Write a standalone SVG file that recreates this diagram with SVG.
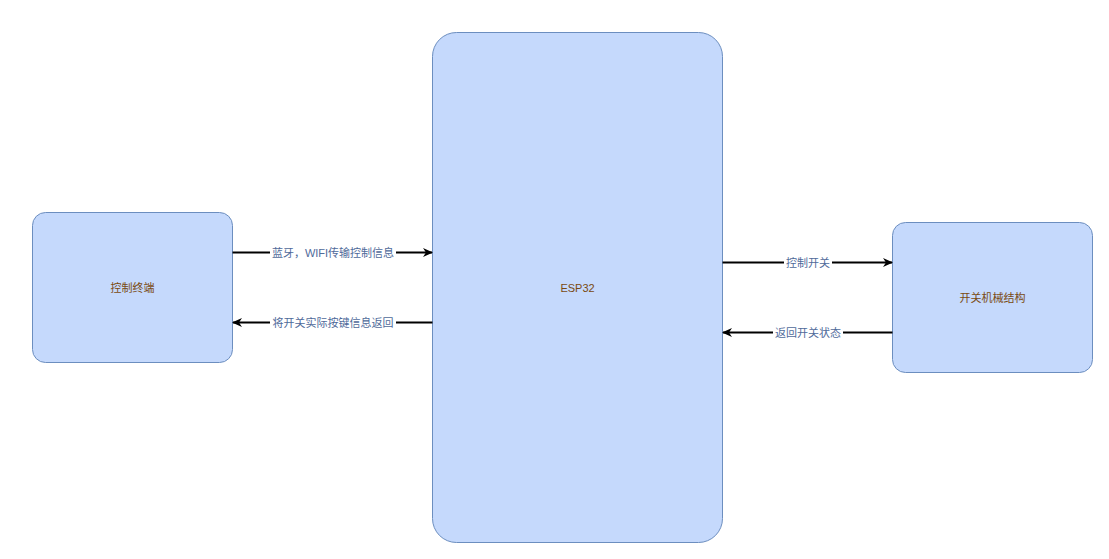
<svg xmlns="http://www.w3.org/2000/svg" width="1109" height="559" viewBox="0 0 1109 559">
<style>
.node{fill:#c5d9fc;stroke:#6c8ebf;stroke-width:1}
.ntxt{font-family:"Liberation Sans","Noto Sans CJK SC",sans-serif;font-size:11px;fill:#7a4a10;text-anchor:middle;dominant-baseline:central}
.edge{stroke:#000;stroke-width:2;fill:none}
.lbg{fill:#fff}
.ltxt{font-family:"Liberation Sans","Noto Sans CJK SC",sans-serif;font-size:11px;fill:#4f6a9a;text-anchor:middle;dominant-baseline:central}
</style>
<defs>
<marker id="ah" viewBox="0 0 10 10" refX="9" refY="5" markerWidth="10" markerHeight="10" markerUnits="userSpaceOnUse" orient="auto">
<path d="M0,0.5 L10,5 L0,9.5 L3,5 Z" fill="#000"/>
</marker>
</defs>
<rect width="1109" height="559" fill="#fff"/>
<g id="terminal">
<rect class="node" x="32.5" y="212.5" width="200" height="150" rx="13"/>
<text class="ntxt" x="132.5" y="287.5">控制终端</text>
</g>
<g id="esp32">
<rect class="node" x="432.5" y="32.5" width="290" height="510" rx="24"/>
<text class="ntxt" x="577.5" y="287.5">ESP32</text>
</g>
<g id="switch">
<rect class="node" x="892.5" y="222.5" width="200" height="150" rx="13"/>
<text class="ntxt" x="992.5" y="297.5">开关机械结构</text>
</g>
<g id="connectors">
<g id="e1">
<line class="edge" x1="232.5" y1="252.5" x2="432" y2="252.5" marker-end="url(#ah)"/>
<rect class="lbg" x="270" y="245" width="126" height="15"/>
<text class="ltxt" x="333" y="252.5">蓝牙，WIFI传输控制信息</text>
</g>
<g id="e2">
<line class="edge" x1="432.5" y1="322.5" x2="233" y2="322.5" marker-end="url(#ah)"/>
<rect class="lbg" x="270" y="315" width="126" height="15"/>
<text class="ltxt" x="333" y="322.5">将开关实际按键信息返回</text>
</g>
<g id="e3">
<line class="edge" x1="722.5" y1="262.5" x2="892" y2="262.5" marker-end="url(#ah)"/>
<rect class="lbg" x="784" y="255" width="48" height="15"/>
<text class="ltxt" x="808" y="262.5">控制开关</text>
</g>
<g id="e4">
<line class="edge" x1="892.5" y1="332.5" x2="723" y2="332.5" marker-end="url(#ah)"/>
<rect class="lbg" x="773" y="325" width="70" height="15"/>
<text class="ltxt" x="808" y="332.5">返回开关状态</text>
</g>
</g>
</svg>
